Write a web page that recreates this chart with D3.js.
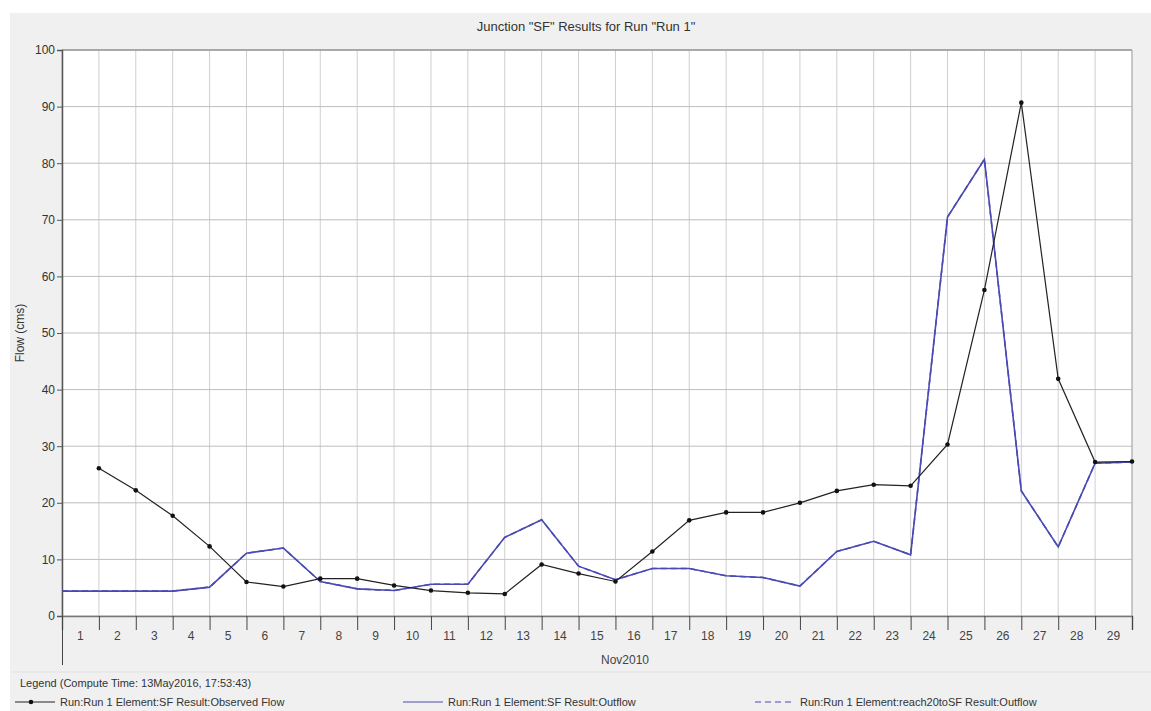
<!DOCTYPE html>
<html>
<head>
<meta charset="utf-8">
<script src="https://cdn.jsdelivr.net/npm/d3@7"></script>
<style>
  body { margin: 0; background: #fff; }
  text { font-family: "Liberation Sans", Arial, sans-serif; }
</style>
</head>
<body>
<div id="chart"></div>
<script>
// daily values, Nov 1 .. Nov 30 2010 (00:00 each day)
var days = ["2010-11-01","2010-11-02","2010-11-03","2010-11-04","2010-11-05","2010-11-06",
  "2010-11-07","2010-11-08","2010-11-09","2010-11-10","2010-11-11","2010-11-12","2010-11-13",
  "2010-11-14","2010-11-15","2010-11-16","2010-11-17","2010-11-18","2010-11-19","2010-11-20",
  "2010-11-21","2010-11-22","2010-11-23","2010-11-24","2010-11-25","2010-11-26","2010-11-27",
  "2010-11-28","2010-11-29","2010-11-30"];

var observed = [null, 26.1, 22.2, 17.7, 12.3, 6.0, 5.2, 6.6, 6.6, 5.4, 4.5, 4.1, 3.9, 9.1, 7.5,
  6.1, 11.4, 16.9, 18.3, 18.3, 20.0, 22.1, 23.2, 23.0, 30.3, 57.6, 90.7, 41.9, 27.2, 27.3];

var outflow = [4.4, 4.4, 4.4, 4.4, 5.1, 11.1, 12.0, 6.1, 4.8, 4.5, 5.6, 5.6, 13.9, 17.0, 8.8,
  6.4, 8.4, 8.4, 7.1, 6.8, 5.3, 11.4, 13.2, 10.8, 70.5, 80.7, 22.1, 12.2, 27.0, 27.2];

// reach outflow is the same hydrograph as the junction outflow
var reachOutflow = outflow.slice();

var yTicks = [0, 10, 20, 30, 40, 50, 60, 70, 80, 90, 100];
var dayLabels = d3.range(1, 30);

var title = 'Junction "SF" Results for Run "Run 1"';
var yTitle = "Flow (cms)";
var xTitle = "Nov2010";
var legendTitle = "Legend (Compute Time: 13May2016, 17:53:43)";
var legendNames = ["Run:Run 1 Element:SF Result:Observed Flow",
  "Run:Run 1 Element:SF Result:Outflow",
  "Run:Run 1 Element:reach20toSF Result:Outflow"];

var width = 1151, height = 711;
var mLeft = 62, mRight = 1132, mTop = 50, mBottom = 616;

var parse = d3.utcParse("%Y-%m-%d");
var dates = days.map(parse);

var x = d3.scaleUtc().domain([dates[0], dates[dates.length - 1]]).range([mLeft, mRight]);
var y = d3.scaleLinear().domain([0, 100]).range([mBottom, mTop]);

var svg = d3.select("#chart").append("svg")
    .attr("width", width)
    .attr("height", height);

// outer frame
svg.append("rect").attr("x", 10).attr("y", 13).attr("width", width - 10).attr("height", height - 13)
    .attr("fill", "#f0f0f0");
svg.append("rect").attr("x", mLeft).attr("y", mTop).attr("width", mRight - mLeft).attr("height", mBottom - mTop)
    .attr("fill", "#fff");

// title
svg.append("text").attr("x", 586).attr("y", 31).attr("text-anchor", "middle")
    .attr("font-size", 13).attr("fill", "#333").text(title);

// vertical grid
svg.append("g").selectAll("line")
    .data(dates)
    .enter().append("line")
    .attr("x1", function(d) { return x(d); }).attr("x2", function(d) { return x(d); })
    .attr("y1", mTop).attr("y2", mBottom)
    .attr("stroke", "#cfcfcf").attr("stroke-width", 1);

// horizontal grid
svg.append("g").selectAll("line")
    .data(yTicks)
    .enter().append("line")
    .attr("x1", mLeft).attr("x2", mRight)
    .attr("y1", function(d) { return y(d); }).attr("y2", function(d) { return y(d); })
    .attr("stroke", "#bdbdbd").attr("stroke-width", 1);

// borders
svg.append("line").attr("x1", mLeft).attr("x2", mRight).attr("y1", mTop).attr("y2", mTop)
    .attr("stroke", "#999").attr("stroke-width", 1.5);
svg.append("line").attr("x1", mRight).attr("x2", mRight).attr("y1", mTop).attr("y2", mBottom)
    .attr("stroke", "#aaa");

// y axis
var yAxis = svg.append("g")
    .attr("transform", "translate(" + mLeft + ",0)")
    .call(d3.axisLeft(y).tickValues(yTicks).tickSize(5).tickPadding(2));
yAxis.select(".domain").attr("stroke", "#555").attr("stroke-width", 1.5);
yAxis.selectAll(".tick line").attr("stroke", "#555");
yAxis.selectAll("text").attr("font-size", 12).attr("fill", "#333")
    .attr("font-family", "'Liberation Sans', Arial, sans-serif");

// x axis: day boundary ticks
var xAxis = svg.append("g")
    .attr("transform", "translate(0," + mBottom + ")")
    .call(d3.axisBottom(x).ticks(d3.utcDay.every(1)).tickSize(14).tickFormat(""));
xAxis.select(".domain").attr("stroke", "#777").attr("stroke-width", 1.5);
xAxis.selectAll(".tick line").attr("stroke", "#444");
xAxis.selectAll(".tick").filter(function(d) { return +d === +dates[0]; })
    .select("line").attr("y2", 49);

// day labels at mid-day
svg.append("g").selectAll("text")
    .data(dayLabels)
    .enter().append("text")
    .attr("x", function(d) { return x(d3.utcHour.offset(dates[d - 1], 12)); })
    .attr("y", 640)
    .attr("text-anchor", "middle")
    .attr("font-size", 12).attr("fill", "#444")
    .text(function(d) { return d; });

svg.append("text").attr("x", 625).attr("y", 664).attr("text-anchor", "middle")
    .attr("font-size", 12).attr("fill", "#444").text(xTitle);

svg.append("text")
    .attr("transform", "translate(24," + ((mTop + mBottom) / 2) + ") rotate(-90)")
    .attr("text-anchor", "middle").attr("font-size", 12).attr("fill", "#333")
    .text(yTitle);

// series
var line = d3.line()
    .defined(function(d) { return d.v != null; })
    .x(function(d) { return x(d.t); })
    .y(function(d) { return y(d.v); });

function pts(arr) {
    return arr.map(function(v, i) { return {t: dates[i], v: v}; });
}

svg.append("path").datum(pts(reachOutflow))
    .attr("d", line).attr("fill", "none")
    .attr("stroke", "#4a4ab4").attr("stroke-width", 1.5).attr("stroke-dasharray", "6,4");

svg.append("path").datum(pts(outflow))
    .attr("d", line).attr("fill", "none")
    .attr("stroke", "#4a4ab4").attr("stroke-width", 1.6);

svg.append("path").datum(pts(observed))
    .attr("d", line).attr("fill", "none")
    .attr("stroke", "#222").attr("stroke-width", 1.2);

svg.append("g").selectAll("circle")
    .data(pts(observed).filter(function(d) { return d.v != null; }))
    .enter().append("circle")
    .attr("cx", function(d) { return x(d.t); })
    .attr("cy", function(d) { return y(d.v); })
    .attr("r", 2.3).attr("fill", "#111");

// legend
svg.append("line").attr("x1", 10).attr("x2", width).attr("y1", 672).attr("y2", 672)
    .attr("stroke", "#e2e2e2");
svg.append("text").attr("x", 20).attr("y", 687).attr("font-size", 11).attr("fill", "#333")
    .text(legendTitle);

var legendX = [15, 403, 755];
var legendStyle = [
    {stroke: "#222", dash: null, dot: true},
    {stroke: "#4a4ab4", dash: null, dot: false},
    {stroke: "#4a4ab4", dash: "6,4", dot: false}
];
var lg = svg.append("g").selectAll("g")
    .data(legendNames)
    .enter().append("g")
    .attr("transform", function(d, i) { return "translate(" + legendX[i] + ",702)"; });
lg.append("line").attr("x1", 0).attr("x2", 40).attr("y1", 0).attr("y2", 0)
    .attr("stroke", function(d, i) { return legendStyle[i].stroke; })
    .attr("stroke-width", 1.2)
    .attr("stroke-dasharray", function(d, i) { return legendStyle[i].dash; });
lg.filter(function(d, i) { return legendStyle[i].dot; })
    .append("circle").attr("cx", 16).attr("cy", 0).attr("r", 2.3).attr("fill", "#111");
lg.append("text").attr("x", 45).attr("y", 4).attr("font-size", 11).attr("fill", "#333")
    .text(function(d) { return d; });
</script>
</body>
</html>
